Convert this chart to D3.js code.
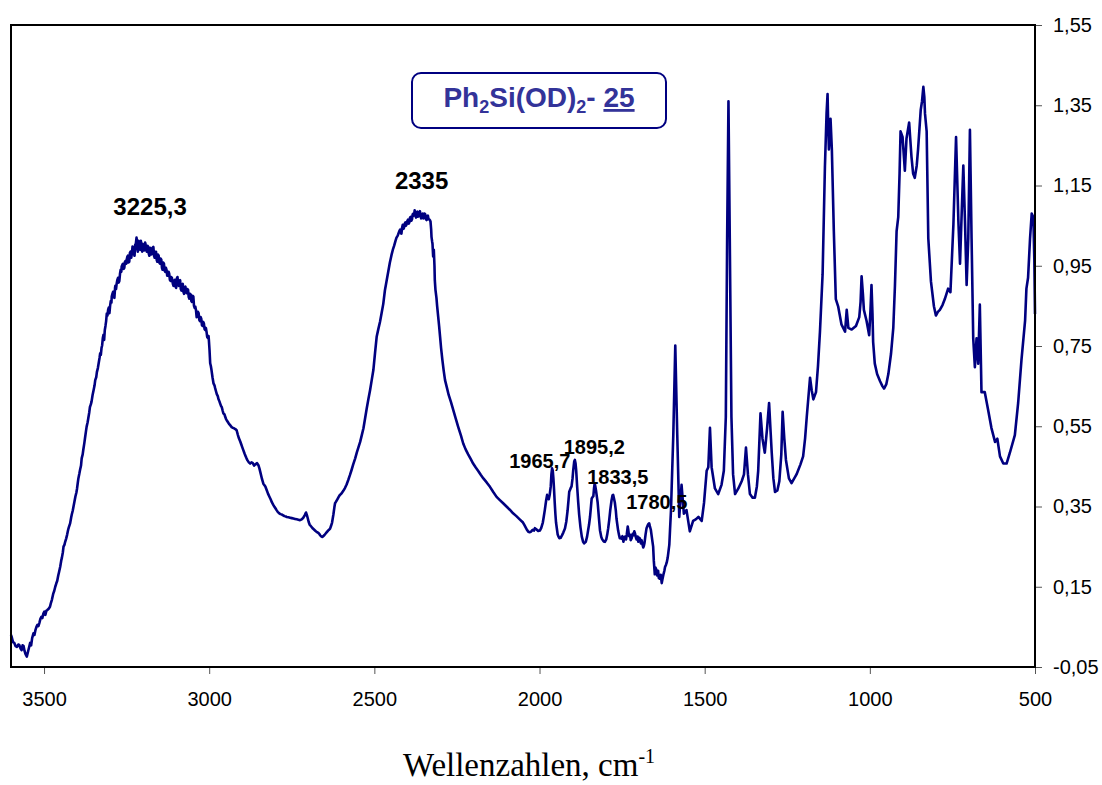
<!DOCTYPE html>
<html>
<head>
<meta charset="utf-8">
<script src="https://cdn.jsdelivr.net/npm/d3@7"></script>
<style>
  body { margin: 0; background: #fff; }
</style>
</head>
<body>
<div id="chart"></div>
<script>
// IR spectrum: [wavenumber cm-1, absorbance]
const spectrumOH = [
  [3600,0.030],[3598,0.025],[3594,0.012],[3590,0.010],[3586,0.002],[3582,0.000],[3578,0.006],[3575,0.005],[3571,-0.004],[3568,-0.008],
  [3565,0.004],[3562,0.002],[3559,-0.010],[3556,-0.018],[3552,-0.024],[3548,-0.010],[3545,0.000],[3542,0.010],[3539,0.004],[3536,0.022],
  [3532,0.034],[3529,0.030],[3526,0.042],[3523,0.050],[3520,0.055],[3517,0.052],[3514,0.060],[3511,0.070],[3508,0.075],[3505,0.072],
  [3502,0.083],[3499,0.088],[3496,0.080],[3493,0.090],[3490,0.092],[3486,0.095],[3482,0.100],[3479,0.110],[3476,0.118],[3472,0.133],
  [3469,0.140],[3466,0.150],[3463,0.158],[3460,0.165],[3457,0.178],[3455,0.185],[3451,0.200],[3448,0.215],[3446,0.222],[3443,0.236],
  [3441,0.250],[3438,0.255],[3436,0.262],[3433,0.270],[3430,0.280],[3427,0.292],[3425,0.298],[3421,0.308],[3418,0.322],[3416,0.330],
  [3413,0.340],[3411,0.349],[3408,0.362],[3405,0.375],[3402,0.385],[3400,0.395],[3398,0.408],[3396,0.420],[3393,0.432],[3391,0.441],
  [3388,0.452],[3386,0.470],[3383,0.480],[3381,0.492],[3378,0.508],[3376,0.520],[3373,0.538],[3371,0.549],[3368,0.560],[3366,0.570],
  [3363,0.585],[3361,0.598],[3358,0.605],[3356,0.612],[3353,0.628],[3350,0.640],[3347,0.652],[3345,0.665],[3342,0.672],[3340,0.685],
  [3337,0.695],[3335,0.705],[3332,0.720],[3330,0.732],[3328,0.728],[3326,0.745],[3324,0.752],[3322,0.770],[3320,0.778],[3318,0.765],
  [3316,0.790],[3314,0.800],[3312,0.812],[3310,0.831],[3308,0.826],[3306,0.840],[3304,0.846],[3302,0.832],[3300,0.850],[3298,0.862],
  [3296,0.858],[3295,0.873],[3293,0.880],[3291,0.885],[3289,0.876],[3287,0.870],[3285,0.895],[3284,0.900],[3282,0.892],[3280,0.906],
  [3278,0.915],[3276,0.920],[3274,0.908],[3272,0.912],[3270,0.930],[3268,0.940],[3266,0.935],[3265,0.948],[3263,0.952],[3261,0.955],
  [3259,0.942],[3257,0.945],[3255,0.960],[3253,0.962],[3251,0.955],[3250,0.964],[3248,0.972],[3246,0.975],[3244,0.958],[3242,0.960],
  [3240,0.982],[3238,0.985],[3236,0.970],[3234,0.981],[3232,0.998],[3230,0.995],[3228,0.980],[3226,0.975],[3224,1.002],[3222,1.005],
  [3220,1.020],[3219,1.014],[3217,0.990],[3216,0.985],[3214,1.012],[3213,1.010],[3211,0.995],[3209,0.990],[3207,1.012],[3206,1.008],
  [3204,0.992],[3203,0.985],[3201,1.004],[3199,1.002],[3197,0.988],[3196,0.990],[3194,1.008],[3193,1.005],[3191,0.990],[3189,0.985],
  [3187,1.000],[3185,0.998],[3183,0.980],[3181,0.975],[3179,0.995],[3177,0.992],[3175,0.978],[3173,0.980],[3171,0.995],[3169,0.997],
  [3167,0.975],[3165,0.970],[3163,0.985],[3161,0.985],[3159,0.965],[3157,0.960],[3155,0.978],[3153,0.975],[3151,0.958],[3149,0.955],
  [3147,0.968],[3145,0.965],[3143,0.945],[3141,0.940],[3139,0.958],[3137,0.955],[3135,0.938],[3133,0.935],[3131,0.945],[3129,0.939],
  [3127,0.925],[3125,0.925],[3123,0.935],[3121,0.930],[3119,0.915],[3117,0.912],[3115,0.922],[3113,0.920],[3110,0.905],[3108,0.900],
  [3106,0.912],[3104,0.915],[3102,0.898],[3100,0.895],[3098,0.918],[3096,0.922],[3094,0.905],[3092,0.900],[3090,0.912],[3088,0.914],
  [3086,0.892],[3084,0.888],[3082,0.902],[3080,0.905],[3078,0.885],[3076,0.880],[3074,0.895],[3072,0.898],[3070,0.885],[3068,0.882],
  [3066,0.892],[3064,0.890],[3062,0.872],[3060,0.868],[3058,0.880],[3056,0.878],[3054,0.862],[3052,0.860],[3050,0.875],[3048,0.873],
  [3046,0.850],[3044,0.845],[3042,0.848],[3040,0.840],[3038,0.822],[3036,0.825],[3034,0.835],[3032,0.832],[3030,0.815],[3028,0.812],
  [3026,0.822],[3024,0.818],[3022,0.802],[3020,0.800],[3018,0.810],[3016,0.806],[3014,0.792],[3012,0.790],[3010,0.795],[3008,0.785],
  [3006,0.772],[3004,0.770],[3002,0.775],[3001,0.765],[2999,0.740],[2997,0.707],[2995,0.700],[2993,0.690],[2990,0.672],[2987,0.657],
  [2984,0.652],[2982,0.645],[2979,0.636],[2977,0.630],[2974,0.625],[2972,0.618],[2969,0.612],[2967,0.607],[2964,0.600],[2962,0.598],
  [2959,0.588],[2957,0.582],[2954,0.580],[2952,0.575],[2949,0.568],[2947,0.565],[2943,0.560],[2940,0.556],[2936,0.552],[2932,0.548],
  [2928,0.546],[2925,0.545],[2921,0.543],[2917,0.540],[2913,0.528],[2910,0.520],[2906,0.512],[2903,0.505],[2900,0.498],[2897,0.491],
  [2893,0.482],[2890,0.476],[2887,0.470],[2884,0.465],[2880,0.460],[2876,0.457],[2872,0.460],[2868,0.458],[2864,0.452],[2860,0.455],
  [2855,0.458],[2851,0.453],[2848,0.445],[2845,0.435],[2840,0.418],[2836,0.407],[2830,0.400],[2826,0.391],[2822,0.382],[2818,0.375],
  [2814,0.368],[2810,0.360],[2806,0.354],[2803,0.350],[2799,0.345],[2796,0.341],[2792,0.336],[2788,0.333],[2784,0.331],[2780,0.330],
  [2776,0.328],[2772,0.326],[2768,0.325],[2765,0.324],[2760,0.323],[2755,0.322],[2750,0.321],[2745,0.320],[2740,0.319],[2735,0.318],
  [2730,0.317],[2725,0.316],[2720,0.318],[2715,0.322],[2711,0.328],[2707,0.335]
];

const spectrumOD = [
  [2704,0.328],[2702,0.322],[2699,0.312],[2696,0.305],[2693,0.302],[2690,0.299],[2686,0.295],[2682,0.292],[2678,0.289],[2675,0.287],
  [2671,0.285],[2667,0.282],[2664,0.278],[2660,0.275],[2657,0.274],[2655,0.276],[2651,0.279],[2648,0.282],[2644,0.286],[2640,0.290],
  [2637,0.292],[2634,0.295],[2631,0.302],[2628,0.310],[2626,0.320],[2624,0.330],[2621,0.348],[2619,0.358],[2616,0.362],[2612,0.368],
  [2608,0.374],[2605,0.378],[2600,0.382],[2594,0.389],[2589,0.396],[2584,0.405],[2579,0.416],[2574,0.428],[2569,0.441],[2564,0.455],
  [2558,0.470],[2553,0.485],[2548,0.498],[2543,0.511],[2538,0.528],[2533,0.545],[2528,0.570],[2523,0.595],[2518,0.618],[2513,0.640],
  [2508,0.665],[2503,0.690],[2498,0.732],[2493,0.773],[2488,0.792],[2483,0.810],[2478,0.832],[2473,0.855],[2468,0.889],[2463,0.912],
  [2458,0.935],[2453,0.958],[2448,0.977],[2444,0.990],[2440,1.000],[2436,1.012],[2433,1.020],[2430,1.024],[2428,1.028],[2425,1.035],
  [2422,1.040],[2420,1.034],[2418,1.030],[2416,1.045],[2414,1.052],[2412,1.042],[2410,1.045],[2408,1.055],[2406,1.058],[2404,1.050],
  [2402,1.054],[2400,1.062],[2398,1.065],[2396,1.055],[2394,1.058],[2392,1.070],[2390,1.072],[2388,1.062],[2386,1.066],[2384,1.078],
  [2382,1.080],[2380,1.075],[2378,1.088],[2376,1.078],[2374,1.070],[2372,1.082],[2370,1.085],[2368,1.072],[2366,1.074],[2364,1.084],
  [2362,1.086],[2360,1.072],[2358,1.068],[2356,1.078],[2354,1.080],[2352,1.068],[2350,1.070],[2348,1.080],[2346,1.078],[2344,1.066],
  [2342,1.064],[2340,1.074],[2338,1.075],[2336,1.066],[2334,1.066],[2332,1.064],[2330,1.060],[2328,1.040],[2327,1.022],[2325,1.010],
  [2324,1.005],[2322,0.973],[2320,0.990],[2318,0.950],[2317,0.914],[2315,0.890],[2312,0.870],[2310,0.850],[2307,0.825],[2304,0.800],
  [2301,0.773],[2298,0.745],[2294,0.715],[2290,0.688],[2286,0.665],[2280,0.645],[2275,0.628],[2268,0.610],[2261,0.590],[2254,0.570],
  [2246,0.548],[2238,0.527],[2231,0.507],[2224,0.493],[2216,0.480],[2208,0.468],[2201,0.457],[2193,0.447],[2185,0.438],[2178,0.429],
  [2170,0.420],[2160,0.410],[2150,0.399],[2140,0.386],[2130,0.374],[2120,0.366],[2110,0.358],[2100,0.350],[2090,0.342],[2080,0.333],
  [2070,0.326],[2060,0.318],[2050,0.310],[2046,0.304],[2042,0.298],[2038,0.292],[2034,0.287],[2030,0.286],[2026,0.287],[2023,0.290],
  [2020,0.292],[2017,0.290],[2014,0.296],[2011,0.294],[2008,0.292],[2004,0.289]
];

const spectrumOvertones = [
  [1999,0.290],[1995,0.296],[1990,0.310],[1987,0.325],[1984,0.341],[1980,0.365],[1977,0.379],[1974,0.372],[1972,0.368],[1969,0.380],
  [1966,0.400],[1964,0.430],[1962,0.445],[1960,0.440],[1958,0.420],[1956,0.392],[1954,0.360],[1952,0.332],[1950,0.310],[1947,0.292],
  [1945,0.280],[1942,0.274],[1940,0.271],[1936,0.272],[1932,0.278],[1928,0.285],[1923,0.295],[1919,0.312],[1915,0.340],[1912,0.368],
  [1910,0.387],[1906,0.395],[1903,0.400],[1900,0.420],[1898,0.440],[1895,0.462],[1893,0.466],[1891,0.458],[1889,0.440],[1886,0.399],
  [1883,0.362],[1880,0.330],[1876,0.298],[1872,0.275],[1868,0.262],[1865,0.258],[1860,0.262],[1856,0.275],[1853,0.290],[1850,0.305],
  [1847,0.325],[1844,0.352],[1842,0.370],[1839,0.374],[1837,0.376],[1835,0.395],[1833,0.408],[1831,0.400],[1829,0.390],[1826,0.372],
  [1824,0.360],[1820,0.320],[1817,0.291],[1813,0.274],[1810,0.268],[1806,0.263],[1802,0.262],[1798,0.268],[1795,0.280],[1792,0.296],
  [1789,0.316],[1786,0.340],[1782,0.365],[1779,0.378],[1777,0.379],[1775,0.372],[1772,0.360],[1769,0.340],[1767,0.320],[1764,0.302],
  [1762,0.290],[1759,0.278],[1757,0.271],[1754,0.272],[1752,0.270],[1749,0.276],[1746,0.262],[1744,0.270],[1741,0.275],[1738,0.268],
  [1736,0.279],[1733,0.300],[1731,0.290],[1729,0.276],[1726,0.280],[1724,0.266],[1721,0.271],[1718,0.282],[1716,0.278],[1713,0.288],
  [1711,0.283],[1708,0.272],[1706,0.268],[1703,0.275],[1701,0.262],[1698,0.272],[1696,0.270],[1693,0.258],[1691,0.266],[1688,0.255],
  [1686,0.248],[1684,0.252],[1682,0.260],[1679,0.280],[1676,0.296],[1673,0.302],[1671,0.306],[1668,0.308],[1666,0.301],[1663,0.292],
  [1661,0.280],[1658,0.262],[1656,0.250],[1654,0.215],[1651,0.181],[1649,0.198],[1646,0.192],[1644,0.178],[1641,0.190],[1639,0.172],
  [1636,0.170],[1633,0.180],[1630,0.159],[1628,0.168],[1625,0.180],[1622,0.190],[1620,0.199],[1617,0.205],[1615,0.210],[1612,0.222],
  [1610,0.235],[1607,0.255],[1605,0.290],[1602,0.340]
];

const spectrumFingerprint = [
  [1600,0.395],[1595,0.528],[1589,0.751],[1583,0.528],[1577,0.324],[1570,0.404],[1563,0.332],[1555,0.341],[1545,0.288],[1535,0.314],
  [1527,0.318],[1519,0.324],[1509,0.314],[1502,0.359],[1494,0.439],[1489,0.448],[1484,0.546],[1479,0.448],[1469,0.395],[1459,0.381],
  [1449,0.404],[1442,0.439],[1436,0.573],[1432,1.018],[1428,1.360],[1424,1.018],[1419,0.573],[1414,0.430],[1408,0.381],[1398,0.395],
  [1388,0.413],[1381,0.430],[1375,0.497],[1369,0.430],[1363,0.381],[1355,0.372],[1348,0.372],[1342,0.400],[1338,0.439],[1331,0.582],
  [1325,0.519],[1318,0.484],[1311,0.546],[1305,0.608],[1300,0.530],[1297,0.484],[1292,0.420],[1287,0.386],[1280,0.390],[1274,0.413],
  [1268,0.480],[1264,0.586],[1259,0.520],[1254,0.466],[1245,0.420],[1237,0.408],[1222,0.430],[1210,0.455],[1202,0.475],[1196,0.520],
  [1191,0.573],[1181,0.671],[1176,0.640],[1171,0.617],[1163,0.635],[1157,0.700],[1151,0.786],[1143,0.929],[1136,1.196],[1131,1.330],
  [1128,1.378],[1126,1.300],[1124,1.240],[1119,1.316],[1115,1.240],[1109,1.036],[1103,0.867],[1096,0.849],[1086,0.804],[1075,0.786],
  [1070,0.840],[1065,0.795],[1055,0.791],[1042,0.800],[1032,0.822],[1028,0.860],[1025,0.924],[1021,0.880],[1018,0.840],[1010,0.813],
  [1002,0.777],[998,0.840],[995,0.902],[992,0.830],[990,0.760],[985,0.706],[978,0.680],[969,0.662],[962,0.650],[957,0.644],
  [950,0.655],[944,0.680],[936,0.730],[929,0.795],[924,0.900],[919,1.036],[914,1.071],[910,1.180],[907,1.285],[901,1.271],
  [894,1.187],[889,1.267],[881,1.307],[874,1.222],[869,1.180],[864,1.169],[858,1.200],[854,1.240],[846,1.338],[842,1.360],
  [838,1.396],[835,1.370],[833,1.329],[828,1.285],[823,1.018],[815,0.911],[806,0.849],[800,0.826],[794,0.835],[788,0.840],
  [780,0.852],[773,0.867],[763,0.893],[756,0.884],[747,1.053],[739,1.271],[732,1.062],[727,0.955],[722,1.080],[717,1.200],
  [712,1.062],[707,0.902],[702,1.018],[697,1.289],[692,1.018],[687,0.769],[682,0.697],[677,0.769],[672,0.706],[667,0.853],
  [662,0.635],[652,0.635],[642,0.591],[632,0.546],[621,0.511],[614,0.519],[606,0.475],[596,0.457],[586,0.457],[576,0.484],
  [561,0.528],[551,0.608],[541,0.715],[530,0.813],[526,0.893],[521,0.920],[515,1.018],[510,1.080],[505,1.071],[502,0.964],
  [500,0.830]
];

// axis ticks
const xTicks = [3500, 3000, 2500, 2000, 1500, 1000, 500];
const yTicks = [-0.05, 0.15, 0.35, 0.55, 0.75, 0.95, 1.15, 1.35, 1.55];

// peak annotations (text, wavenumber, absorbance of the text baseline)
const peakText  = ["3225,3", "2335", "1965,7", "1895,2", "1833,5", "1780,5"];
const peakWave  = [3179, 2357, 1999, 1834, 1763, 1645];
const peakLevel = [1.077, 1.141, 0.446, 0.480, 0.405, 0.345];

const width = 1102, height = 785;
const plot = {left: 11, right: 1035, top: 25, bottom: 667};
const sans = "'Liberation Sans', Arial, sans-serif";

const spectrum = spectrumOH.concat(spectrumOD, spectrumOvertones, spectrumFingerprint);

const svg = d3.select("#chart")
    .append("svg")
    .attr("width", width)
    .attr("height", height)
    .style("display", "block");

svg.append("rect")
    .attr("width", width)
    .attr("height", height)
    .attr("fill", "#fff");

const x = d3.scaleLinear()
    .domain([3600, 500])
    .range([plot.left, plot.right]);

const y = d3.scaleLinear()
    .domain([-0.05, 1.55])
    .range([plot.bottom, plot.top]);

// bottom axis
const xAxis = svg.append("g")
    .attr("transform", `translate(0,${plot.bottom})`)
    .call(d3.axisBottom(x)
        .tickValues(xTicks)
        .tickSize(7)
        .tickPadding(18)
        .tickFormat(d3.format("d")));
xAxis.select(".domain").remove();
xAxis.selectAll(".tick line").attr("stroke", "#555");
xAxis.selectAll("text")
    .style("font-family", sans)
    .style("font-size", "20px")
    .attr("fill", "#000");

// right axis
const yAxis = svg.append("g")
    .attr("transform", `translate(${plot.right},0)`)
    .call(d3.axisRight(y)
        .tickValues(yTicks)
        .tickSize(7)
        .tickPadding(11)
        .tickFormat(d => d.toFixed(2).replace(".", ",")));
yAxis.select(".domain").remove();
yAxis.selectAll(".tick line").attr("stroke", "#555");
yAxis.selectAll("text")
    .style("font-family", sans)
    .style("font-size", "20px")
    .attr("fill", "#000");

// spectrum line
const line = d3.line()
    .x(d => x(d[0]))
    .y(d => y(d[1]));

svg.append("path")
    .datum(spectrum)
    .attr("fill", "none")
    .attr("stroke", "#000080")
    .attr("stroke-width", 2.6)
    .attr("stroke-linejoin", "round")
    .attr("d", line);

// plot frame
svg.append("rect")
    .attr("x", plot.left)
    .attr("y", plot.top)
    .attr("width", plot.right - plot.left)
    .attr("height", plot.bottom - plot.top)
    .attr("fill", "none")
    .attr("stroke", "#000")
    .attr("stroke-width", 2);

// peak labels
svg.selectAll(".peak")
    .data(peakText)
    .enter()
    .append("text")
    .attr("class", "peak")
    .attr("x", (d, i) => x(peakWave[i]))
    .attr("y", (d, i) => y(peakLevel[i]))
    .attr("text-anchor", "middle")
    .style("font-family", sans)
    .style("font-weight", "bold")
    .style("font-size", (d, i) => i < 2 ? "24px" : "20px")
    .attr("fill", "#000")
    .text(d => d);

// title box
svg.append("rect")
    .attr("x", 412)
    .attr("y", 73)
    .attr("width", 254)
    .attr("height", 55)
    .attr("rx", 9)
    .attr("fill", "#fff")
    .attr("stroke", "#000080")
    .attr("stroke-width", 2);

const title = svg.append("text")
    .attr("x", 539)
    .attr("y", 107)
    .attr("text-anchor", "middle")
    .style("font-family", sans)
    .style("font-weight", "bold")
    .style("font-size", "28px")
    .attr("fill", "#333399");
title.append("tspan").text("Ph");
title.append("tspan").attr("dy", 6).style("font-size", "18px").text("2");
title.append("tspan").attr("dy", -6).text("Si(OD)");
title.append("tspan").attr("dy", 6).style("font-size", "18px").text("2");
title.append("tspan").attr("dy", -6).text("- ");
title.append("tspan").style("text-decoration", "underline").text("25");

// x axis title
const xTitle = svg.append("text")
    .attr("x", 529)
    .attr("y", 776)
    .attr("text-anchor", "middle")
    .style("font-family", "'Liberation Serif', 'Times New Roman', serif")
    .style("font-size", "33px")
    .attr("fill", "#000");
xTitle.append("tspan").text("Wellenzahlen, cm");
xTitle.append("tspan").attr("dy", -13).style("font-size", "20px").text("-1");
</script>
</body>
</html>
